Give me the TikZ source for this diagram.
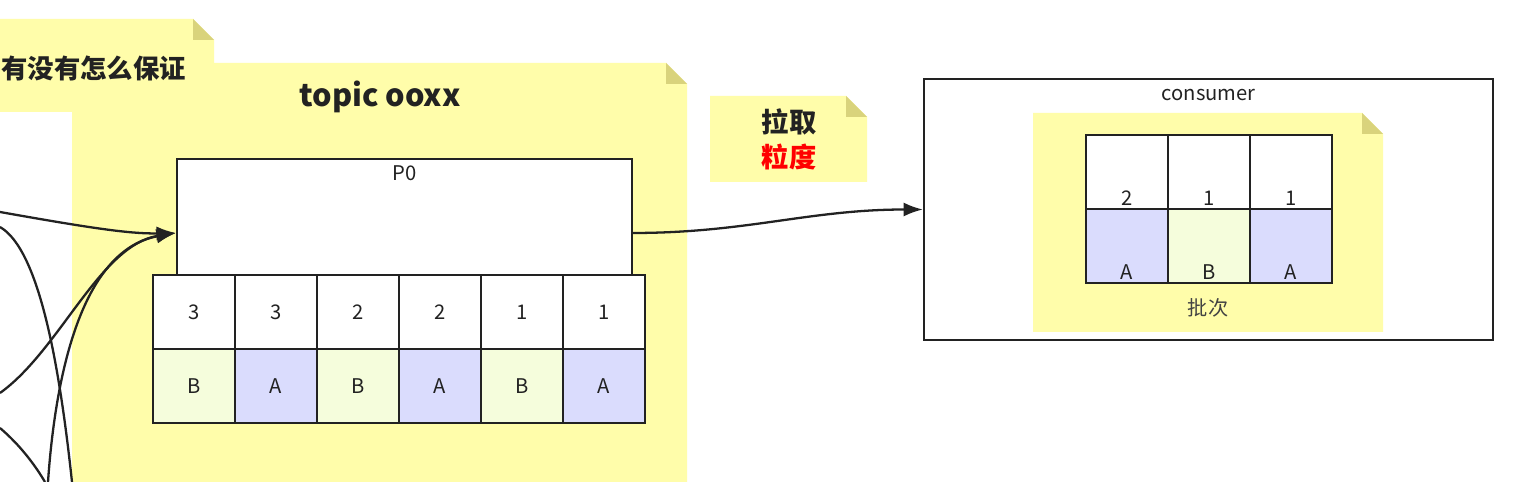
\documentclass[tikz,border=0pt]{standalone}
\usepackage{fontspec}
\setmainfont{Noto Sans CJK SC}
\usetikzlibrary{arrows.meta}

\definecolor{notefill}{HTML}{FFFDAA}
\definecolor{notefold}{HTML}{D9D37C}
\definecolor{cellA}{HTML}{DADCFD}
\definecolor{cellB}{HTML}{F5FDDC}
\definecolor{ink}{HTML}{222222}

% sticky note: x1, y1, x2, y2 (pixels, y downwards)
\newcommand{\stickynote}[4]{%
  \fill[notefill] (#1,#2) -- ({#3-21},#2) -- (#3,{#2+21}) -- (#3,#4) -- (#1,#4) -- cycle;
  \fill[notefold] ({#3-21},#2) -- ({#3-21},{#2+21}) -- (#3,{#2+21}) -- cycle;}

\begin{document}
\begin{tikzpicture}[x=0.02cm, y=-0.02cm, line width=1.3pt, draw=ink, >={Latex[length=11pt,width=8pt]},
  cell/.style={draw=ink, minimum width=1.64cm, minimum height=1.48cm, inner sep=0pt, text=ink, font=\fontsize{11.5}{13}\selectfont},
  big/.style={text=ink, font=\bfseries\fontsize{15}{20}\selectfont},
  small/.style={text=ink, font=\fontsize{11.5}{13}\selectfont}]
\useasboundingbox (0,0) rectangle (1540,482);
\fill[white] (0,0) rectangle (1540,482);

% notes
\stickynote{72}{63}{687}{520}
\stickynote{-10}{19}{214}{112}
\stickynote{710}{96}{867}{182}

\node[big, anchor=east, inner sep=0pt] (why) at (187,68) {有没有怎么保证};
\node[big, font=\bfseries\fontsize{17.5}{20}\selectfont] (topic) at (380,97) {topic ooxx};
\node[big, align=center, font=\bfseries\fontsize{15.5}{20}\selectfont] (pull) at (789,139) {拉取\\{\color{red}粒度}};

% partition
\node[draw=ink, fill=white, minimum width=9.1cm, minimum height=2.32cm,
  label={[small, anchor=north, inner sep=4pt]north:P0}] (p0) at (404.5,217) {};
\foreach \i/\n/\l/\c in {0/3/B/cellB, 1/3/A/cellA, 2/2/B/cellB, 3/2/A/cellA, 4/1/B/cellB, 5/1/A/cellA}{
  \node[cell, fill=white] (num\i) at ({194+82*\i},312) {\n};
  \node[cell, fill=\c] (key\i) at ({194+82*\i},386) {\l};
}

% consumer
\node[draw=ink, fill=white, minimum width=11.38cm, minimum height=5.22cm,
  label={[small, anchor=north, inner sep=6pt]north:consumer}] (cons) at (1208.5,209.5) {};
\stickynote{1033}{113}{1383}{332}
\foreach \i/\n/\l/\c in {0/2/A/cellA, 1/1/B/cellB, 2/1/A/cellA}{
  \node[cell, fill=white, label={[small, anchor=south, inner sep=2pt]south:\n}] (bnum\i) at ({1127+82*\i},172) {};
  \node[cell, fill=\c, label={[small, anchor=south, inner sep=2pt]south:\l}] (bkey\i) at ({1127+82*\i},246) {};
}
\node[small, text=ink!85] (batch) at (1208,308) {批次};

% connectors
\draw[->] (p0.-4) to[out=0, in=180] (cons.west);

\coordinate (in1) at (0,212);
\coordinate (in2) at (0,393);
\coordinate (in3) at (48,482);
\coordinate (pass1) at (0,227);
\coordinate (pass2) at (72,482);
\coordinate (pass3) at (0,428);
\coordinate (pass4) at (45,482);
\draw[->] (in1) .. controls (90,228) and (130,234) .. (p0.184);
\draw[->] (in2) .. controls (60,350) and (100,245) .. (p0.184);
\draw[->] (in3) .. controls (55,380) and (80,250) .. (p0.184);
\draw (pass1) .. controls (40,250) and (60,370) .. (pass2);
\draw (pass3) .. controls (20,445) and (35,465) .. (pass4);
\end{tikzpicture}
\end{document}
